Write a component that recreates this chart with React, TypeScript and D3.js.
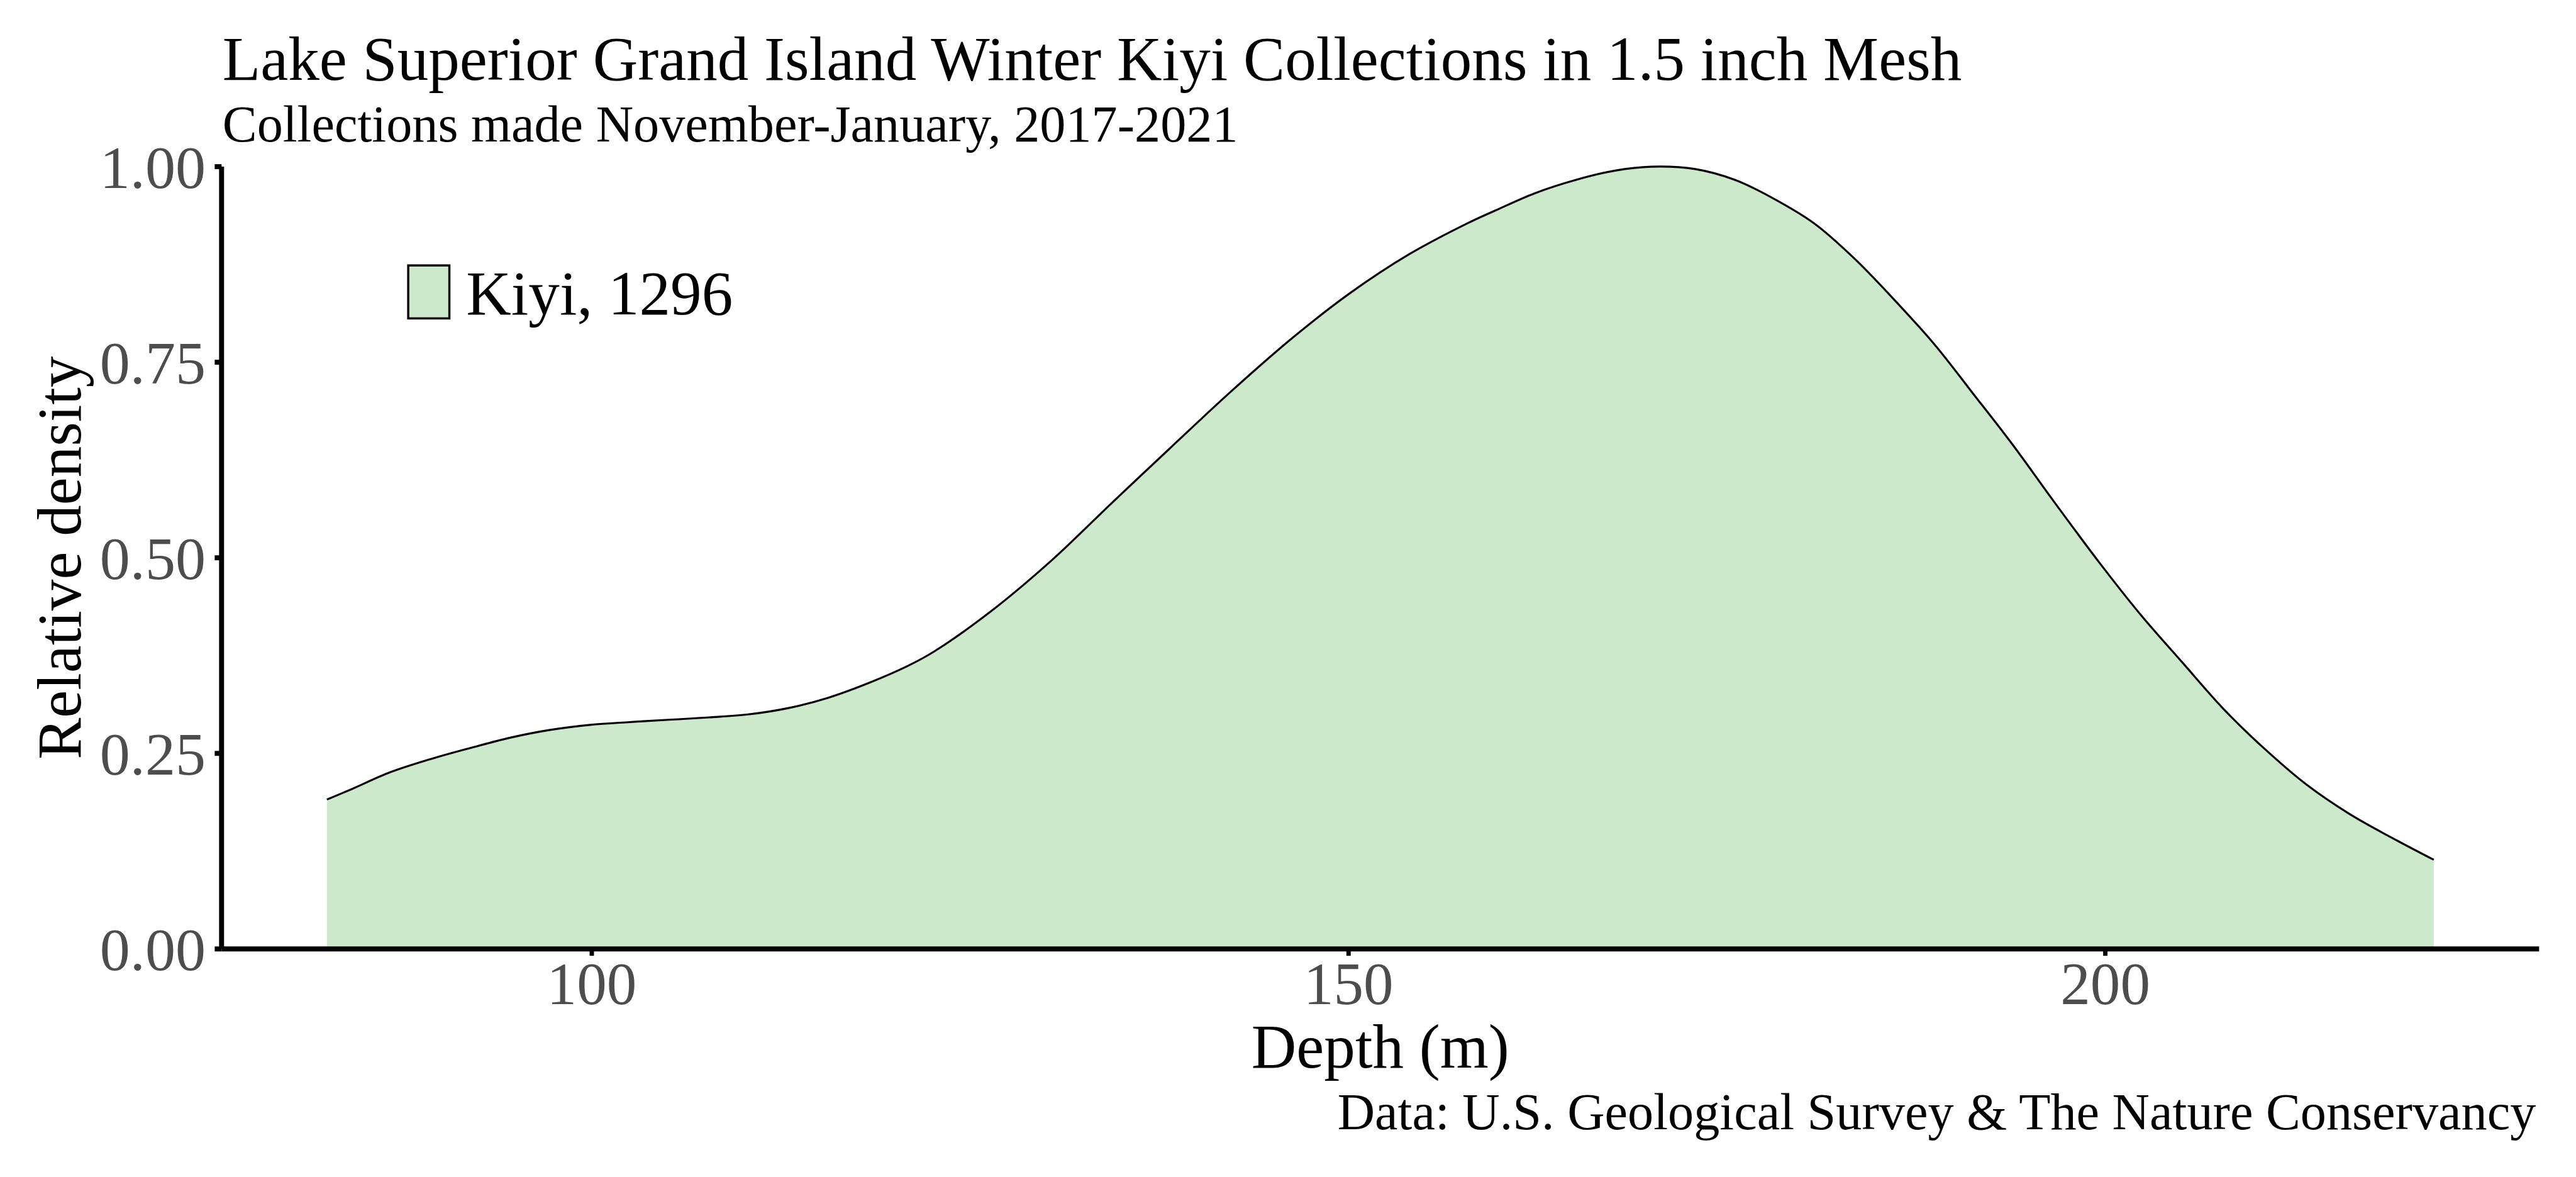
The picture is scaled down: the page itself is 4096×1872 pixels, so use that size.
import { useEffect } from "react";
import * as d3 from "d3";

// values (depth in m, relative density)
const depth = [
  82.5, 84.1, 86.7, 89.4, 92.0, 94.6, 97.25, 99.9, 102.5, 105.1, 107.75, 110.4, 113.0, 115.6,
  118.3, 120.9, 122.6, 126.4, 130.4, 134.3, 138.2, 142.2, 146.1, 150.0, 154.0, 157.9, 159.7,
  162.3, 165.0, 167.6, 170.0, 172.9, 175.55, 178.1, 180.8, 183.4, 186.0, 188.7, 191.3, 193.9,
  196.6, 199.6, 202.3, 205.1, 207.8, 210.6, 213.3, 216.1, 218.85, 221.7,
];
const density = [
  0.191, 0.204, 0.226, 0.243, 0.257, 0.27, 0.28, 0.2865, 0.29, 0.293, 0.296, 0.3, 0.308, 0.321,
  0.34, 0.362, 0.38, 0.432, 0.497, 0.569, 0.64, 0.712, 0.778, 0.837, 0.888, 0.928, 0.944,
  0.966, 0.983, 0.995, 1.0, 0.997, 0.983, 0.959, 0.927, 0.883, 0.831, 0.773, 0.709, 0.644,
  0.572, 0.494, 0.428, 0.366, 0.307, 0.2545, 0.21, 0.173, 0.143, 0.114,
];
const xTicks = [100, 150, 200];
const yTicks = [0, 0.25, 0.5, 0.75, 1];

const title = "Lake Superior Grand Island Winter Kiyi Collections in 1.5 inch Mesh";
const subtitle = "Collections made November-January, 2017-2021";
const caption = "Data: U.S. Geological Survey & The Nature Conservancy";
const legendLabel = "Kiyi, 1296";

const FILL = "#cde9cc";
const GREY = "#4d4d4d";
const FONT = "'Liberation Serif', 'Times New Roman', serif";

export default function App() {
  useEffect(() => {
    document.body.style.margin = "0";
  }, []);

  const W = 4133;
  const H = 1889;
  const k = 0.991;
  const pan = { l: 355.5, r: 4074, t: 267.5, b: 1523 };

  const ext = d3.extent(depth) as [number, number];
  const span = ext[1] - ext[0];
  const x = d3
    .scaleLinear()
    .domain([ext[0] - span * 0.05, ext[1] + span * 0.05])
    .range([pan.l, pan.r]);
  const y = d3.scaleLinear().domain([0, 1]).range([pan.b, pan.t]);

  const pts = depth.map((d, i) => [d, density[i]] as [number, number]);
  const curve = d3.curveCatmullRom.alpha(0.5);
  const area = d3
    .area<[number, number]>()
    .x((d) => x(d[0]))
    .y0(y(0))
    .y1((d) => y(d[1]))
    .curve(curve);
  const line = d3
    .line<[number, number]>()
    .x((d) => x(d[0]))
    .y((d) => y(d[1]))
    .curve(curve);

  const tickLen = 11;

  return (
    <svg
      width={Math.round(W * k)}
      height={Math.round(H * k)}
      style={{ position: "absolute", left: 0, top: 0, background: "#fff" }}
      fontFamily={FONT}
    >
      <g transform={`scale(${k})`}>
        <rect width={W} height={H} fill="#fff" />
        <text x={357} y={128} fontSize={100} fill="#000">{title}</text>
        <text x={357} y={227} fontSize={83} fill="#000">{subtitle}</text>

        <path d={area(pts) ?? ""} fill={FILL} />
        <path d={line(pts) ?? ""} fill="none" stroke="#000" strokeWidth={3.2} />

        {/* y axis */}
        <line x1={pan.l} x2={pan.l} y1={pan.t} y2={pan.b} stroke="#000" strokeWidth={8} />
        {yTicks.map((t) => (
          <g key={t}>
            <line x1={pan.l - tickLen} x2={pan.l} y1={y(t)} y2={y(t)} stroke="#000" strokeWidth={8} />
            <text x={330} y={y(t) + 34} textAnchor="end" fontSize={97} fill={GREY}>
              {t.toFixed(2)}
            </text>
          </g>
        ))}

        {/* x axis */}
        <line x1={pan.l} x2={pan.r} y1={pan.b} y2={pan.b} stroke="#000" strokeWidth={8} />
        {xTicks.map((t) => (
          <g key={t}>
            <line x1={x(t)} x2={x(t)} y1={pan.b} y2={pan.b + tickLen} stroke="#000" strokeWidth={7} />
            <text x={x(t)} y={1612} textAnchor="middle" fontSize={96} fill={GREY}>
              {t}
            </text>
          </g>
        ))}

        <text x={(pan.l + pan.r) / 2} y={1713} textAnchor="middle" fontSize={100} fill="#000">
          Depth (m)
        </text>
        <text
          transform={`translate(129,${(pan.t + pan.b) / 2}) rotate(-90)`}
          textAnchor="middle"
          fontSize={100}
          fill="#000"
        >
          Relative density
        </text>

        {/* legend */}
        <rect x={655} y={426} width={66} height={85} fill={FILL} stroke="#000" strokeWidth={3.5} />
        <text x={748} y={505} fontSize={100} fill="#000">{legendLabel}</text>

        <text x={4069} y={1812} textAnchor="end" fontSize={83} fill="#000">{caption}</text>
      </g>
    </svg>
  );
}
